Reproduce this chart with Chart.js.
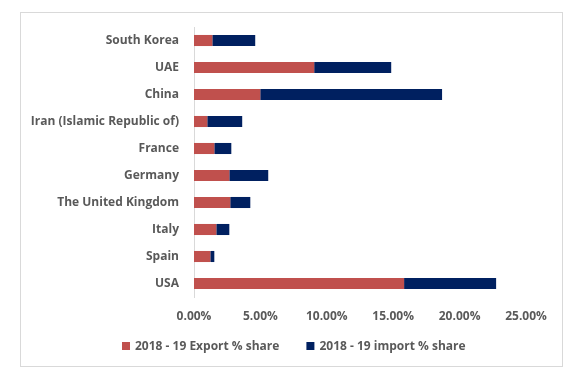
<!DOCTYPE html>
<html>
<head>
<meta charset="utf-8">
<script src="https://cdn.jsdelivr.net/npm/chart.js@4/dist/chart.umd.min.js"></script>
<style>
  html, body { margin: 0; padding: 0; background: #fff; }
</style>
</head>
<body>
<canvas id="chart" width="582" height="384"></canvas>
<script>
const countries = ['South Korea', 'UAE', 'China', 'Iran (Islamic Republic of)', 'France',
    'Germany', 'The United Kingdom', 'Italy', 'Spain', 'USA'];
const exportShare = [1.38, 9.05, 4.99, 1.00, 1.53, 2.66, 2.73, 1.68, 1.23, 15.82];
const importShare = [3.23, 5.80, 13.69, 2.63, 1.28, 2.93, 1.51, 0.98, 0.30, 6.93];
const seriesNames = ['2018 - 19 Export % share', '2018 - 19 import % share'];
const seriesColors = ['#C0504D', '#002060'];

const textColor = '#595959';
const font = { family: 'Open Sans', size: 12, weight: 'bold' };

// light grey frame round the whole chart
const frame = {
    id: 'frame',
    beforeDraw(chart) {
        const ctx = chart.ctx;
        ctx.save();
        ctx.fillStyle = '#fff';
        ctx.fillRect(0, 0, chart.width, chart.height);
        ctx.strokeStyle = '#d9d9d9';
        ctx.lineWidth = 1;
        ctx.strokeRect(20.5, 12.5, 542, 354);
        ctx.restore();
    }
};

// legend drawn under the axis, centred like the original
const bottomLegend = {
    id: 'bottomLegend',
    afterDraw(chart) {
        const ctx = chart.ctx;
        const box = 8, gap = 5, space = 27, cy = 346;
        ctx.save();
        ctx.font = font.weight + ' ' + font.size + 'px "' + font.family + '"';
        ctx.textBaseline = 'middle';
        const sets = chart.data.datasets;
        const widths = sets.map(d => ctx.measureText(d.label).width);
        let total = space * (sets.length - 1);
        widths.forEach(w => { total += box + gap + w; });
        let x = Math.round(293.5 - total / 2);
        sets.forEach((d, i) => {
            ctx.fillStyle = d.backgroundColor;
            ctx.fillRect(x, cy - box / 2, box, box);
            ctx.fillStyle = textColor;
            ctx.fillText(d.label, x + box + gap, cy + 1);
            x += box + gap + widths[i] + space;
        });
        ctx.restore();
    }
};

new Chart(document.getElementById('chart'), {
    type: 'bar',
    data: {
        labels: countries,
        datasets: seriesNames.map((name, i) => ({
            label: name,
            data: i === 0 ? exportShare : importShare,
            backgroundColor: seriesColors[i],
            categoryPercentage: 1,
            barPercentage: 0.41
        }))
    },
    options: {
        indexAxis: 'y',
        responsive: false,
        animation: false,
        layout: { padding: { left: 0, right: 56, top: 27, bottom: 57 } },
        scales: {
            x: {
                stacked: true,
                min: 0,
                max: 25,
                grid: { display: false, drawTicks: false },
                border: { display: false },
                ticks: {
                    stepSize: 5,
                    padding: 12,
                    color: textColor,
                    font: font,
                    callback: v => v.toFixed(2) + '%'
                },
                afterFit: s => { s.height = 30; }
            },
            y: {
                stacked: true,
                grid: { display: false, drawTicks: false },
                border: { display: true, color: '#d9d9d9', width: 1 },
                ticks: { padding: 15, color: textColor, font: font },
                afterFit: s => { s.width = 194; }
            }
        },
        plugins: {
            legend: { display: false },
            tooltip: { enabled: false }
        }
    },
    plugins: [frame, bottomLegend]
});
</script>
</body>
</html>
